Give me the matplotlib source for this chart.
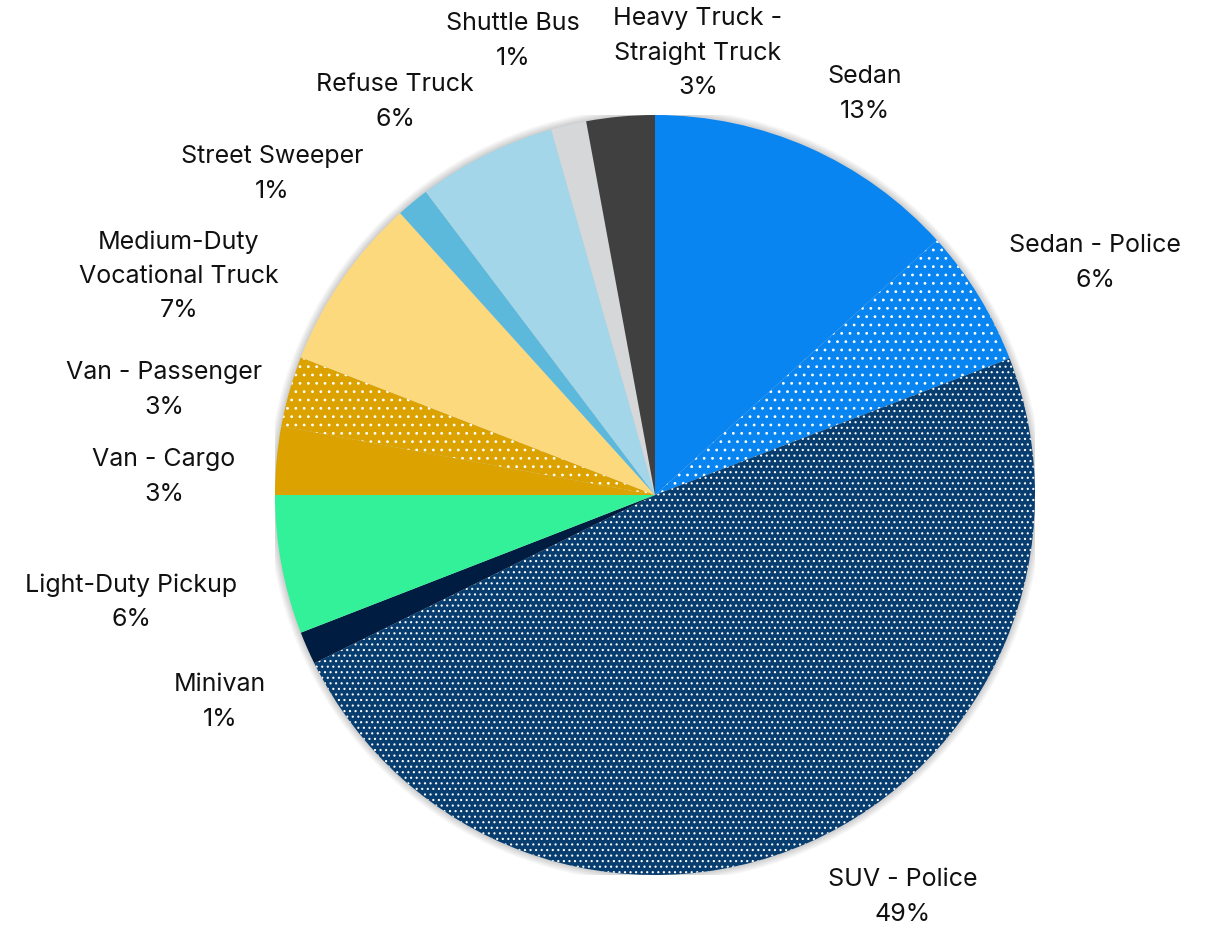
import matplotlib.pyplot as plt
from matplotlib.patches import Circle
import numpy as np

plt.rcParams['font.family'] = ['Inter', 'DejaVu Sans']
plt.rcParams['hatch.linewidth'] = 0.8

# vehicle share of fleet, percent, clockwise from 12 o'clock
categories = ['Sedan', 'Sedan - Police', 'SUV - Police', 'Minivan',
              'Light-Duty Pickup', 'Van - Cargo', 'Van - Passenger',
              'Medium-Duty\nVocational Truck', 'Street Sweeper',
              'Refuse Truck', 'Shuttle Bus', 'Heavy Truck -\nStraight Truck']
shares = [13.3, 5.85, 48.55, 1.4, 5.9, 2.9, 3.0, 7.4, 1.4, 5.9, 1.5, 2.9]
pct_labels = ['13%', '6%', '49%', '1%', '6%', '3%', '3%', '7%', '1%', '6%', '1%', '3%']

colors = ['#0985F1', '#0985F1', '#083D70', '#001C40', '#33F198', '#DBA200',
          '#DBA200', '#FDD97D', '#5DB9DB', '#A2D6E8', '#D5D7D9', '#404040']
hatches = [None, '..', '...', None, None, None, '..', None, None, None, None, None]

# label centres in pixels (x from left, y from top)
label_px = [(865, 94), (1095, 263), (903, 897), (220, 702), (131, 602),
            (164, 477), (164, 390), (179, 276), (272, 174), (395, 102),
            (513, 41), (698, 53)]

W, H = 1210, 926
cx, cy, r = 655, 495, 380

fig = plt.figure(figsize=(W / 100, H / 100), dpi=100)
ax = fig.add_axes([(cx - r) / W, (H - cy - r) / H, 2 * r / W, 2 * r / H])
ax.set_xlim(-1, 1)
ax.set_ylim(-1, 1)
ax.set_aspect('equal')
ax.axis('off')

# soft shadow around the pie
for k in range(8):
    ax.add_patch(Circle((0, 0), 1.0 + 0.0025 * (k + 1), color='#000000',
                        alpha=0.025, lw=0, zorder=0))

wedges, _ = ax.pie(shares, colors=colors, startangle=90, counterclock=False,
                   radius=1, wedgeprops=dict(linewidth=0))
for w, h in zip(wedges, hatches):
    w.set_zorder(1)
    if h:
        w.set_hatch(h)
        w.set_edgecolor('white')
        w.set_linewidth(0)

ax.set_xlim(-1, 1)
ax.set_ylim(-1, 1)

for name, pct, (px, py) in zip(categories, pct_labels, label_px):
    fig.text(px / W, 1 - py / H, name + '\n' + pct, ha='center', va='center',
             fontsize=18, color='#111111', linespacing=1.62)

fig.savefig('out.png', dpi=100, facecolor='white')
